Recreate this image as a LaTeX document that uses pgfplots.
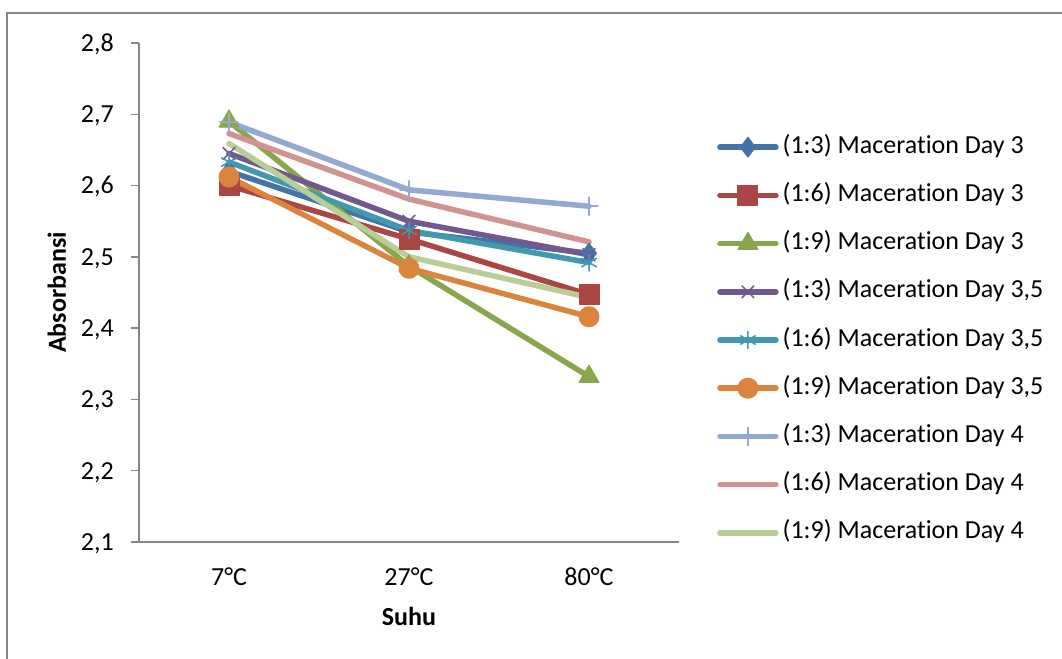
\documentclass[border=0pt]{standalone}
\usepackage{fontspec}
\setmainfont{Carlito}[Ligatures=NoCommon]
\usepackage{pgfplots}
\pgfplotsset{compat=1.18}
\definecolor{c1}{HTML}{4572A7}
\definecolor{c2}{HTML}{AA4643}
\definecolor{c3}{HTML}{89A54E}
\definecolor{c4}{HTML}{71588F}
\definecolor{c5}{HTML}{4198AF}
\definecolor{c6}{HTML}{DB843D}
\definecolor{c7}{HTML}{93A9CF}
\definecolor{c8}{HTML}{D19392}
\definecolor{c9}{HTML}{B9CD96}
\definecolor{axgray}{HTML}{868686}
\begin{document}
\fontsize{26bp}{31bp}\selectfont
\begin{tikzpicture}
\useasboundingbox (0,0) rectangle (1062bp,659bp);
\draw[axgray, line width=1.3bp] (7bp,-5bp) -- (7bp,646bp) -- (1070bp,646bp);
\begin{axis}[
  at={(139bp,117bp)}, anchor=south west,
  scale only axis, width=540bp, height=499bp,
  xmin=-0.5, xmax=2.5, ymin=2.1, ymax=2.8,
  axis lines*=left,
  axis line style={axgray, line width=1.5bp},
  xtick={0,1,2}, xticklabels={7°C,27°C,80°C},
  xtick style={draw=none},
  ytick={2.1,2.2,2.3,2.4,2.5,2.6,2.7,2.8},
  yticklabels={{2,1},{2,2},{2,3},{2,4},{2,5},{2,6},{2,7},{2,8}},
  ytick style={axgray, line width=1.5bp},
  tick align=outside, major tick length=8bp,
  xticklabel style={anchor=north, inner sep=0pt, yshift=-18bp},
  yticklabel style={anchor=base east, inner sep=0pt, yshift=-8.3bp, xshift=-17bp},
  xlabel={\bfseries Suhu}, ylabel={\bfseries Absorbansi},
  xlabel style={at={(axis description cs:0.5,-0.150)}, anchor=center, inner sep=0pt},
  ylabel style={at={(axis description cs:-0.152,0.5)}, anchor=center, rotate=0, inner sep=0pt},
  legend image code/.code={\draw[mark repeat=2,mark phase=2] plot coordinates {(0bp,0bp) (28bp,0bp) (56bp,0bp)};},
  legend cell align=left,
  legend style={draw=none, fill=none, at={(axis description cs:1.0648,0.8196)}, anchor=north west,
    nodes={inner sep=0pt, text height=18bp, text depth=6bp},
    row sep=24.2bp,
    /tikz/every odd column/.append style={column sep=4bp}},
  every axis plot/.append style={line width=5.5bp, line join=round, line cap=round},
  clip=false,
]
\addplot[c1, mark=diamond*, mark size=10bp, mark options={solid, fill=c1, line width=1bp}] coordinates {(0,2.620) (1,2.535) (2,2.505)};
\addlegendentry{(1:3) Maceration Day 3}
\addplot[c2, mark=square*, mark size=10bp, mark options={solid, fill=c2, line width=1bp}] coordinates {(0,2.600) (1,2.525) (2,2.447)};
\addlegendentry{(1:6) Maceration Day 3}
\addplot[c3, mark=triangle*, mark size=11.5bp, mark options={solid, fill=c3, line width=1bp}] coordinates {(0,2.690) (1,2.487) (2,2.332)};
\addlegendentry{(1:9) Maceration Day 3}
\addplot[c4, mark=x, mark size=8.5bp, mark options={solid, line width=1.5bp}] coordinates {(0,2.645) (1,2.550) (2,2.503)};
\addlegendentry{(1:3) Maceration Day 3,5}
\addplot[c5, mark=asterisk, mark size=8.5bp, mark options={solid, line width=1.5bp}] coordinates {(0,2.633) (1,2.537) (2,2.492)};
\addlegendentry{(1:6) Maceration Day 3,5}
\addplot[c6, mark=*, mark size=10bp, mark options={solid, fill=c6, line width=1bp}] coordinates {(0,2.612) (1,2.484) (2,2.416)};
\addlegendentry{(1:9) Maceration Day 3,5}
\addplot[c7, mark=+, mark size=9bp, mark options={solid, line width=1.5bp}] coordinates {(0,2.689) (1,2.594) (2,2.571)};
\addlegendentry{(1:3) Maceration Day 4}
\addplot[c8, no markers] coordinates {(0,2.673) (1,2.581) (2,2.521)};
\addlegendentry{(1:6) Maceration Day 4}
\addplot[c9, no markers] coordinates {(0,2.659) (1,2.500) (2,2.443)};
\addlegendentry{(1:9) Maceration Day 4}
\end{axis}
\end{tikzpicture}
\end{document}
